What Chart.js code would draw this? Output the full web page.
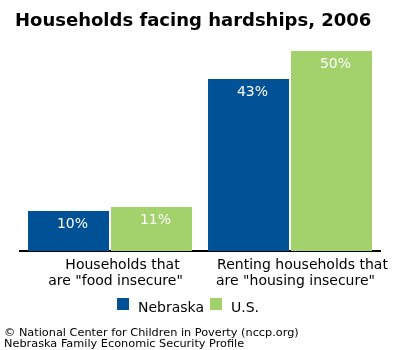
<!DOCTYPE html>
<html>
<head>
<meta charset="utf-8">
<script src="https://cdn.jsdelivr.net/npm/chart.js@4"></script>
<style>
html,body{margin:0;padding:0;background:#fff;}
canvas{display:block;}
</style>
</head>
<body>
<canvas id="c" width="400" height="350"></canvas>
<script>
const categories = [['Households that', 'are "food insecure"'], ['Renting households that', 'are "housing insecure"']];
const seriesNames = ['Nebraska', 'U.S.'];
const nebraskaValues = [10, 43];
const usValues = [11, 50];
const titleText = 'Households facing hardships, 2006';
const footerLines = ['\u00A9 National Center for Children in Poverty (nccp.org)', 'Nebraska Family Economic Security Profile'];

const BLUE = '#005195';
const GREEN = '#a3d16c';
const FONT = '"DejaVu Sans", sans-serif';

const decor = {
  id: 'decor',
  afterDatasetsDraw(chart) {
    const ctx = chart.ctx;
    ctx.save();
    ctx.fillStyle = '#fff';
    ctx.font = '14px ' + FONT;
    ctx.textAlign = 'center';
    ctx.textBaseline = 'middle';
    chart.data.datasets.forEach((ds, di) => {
      const meta = chart.getDatasetMeta(di);
      meta.data.forEach((el, i) => {
        ctx.fillText(ds.data[i] + '%', el.x + 4, el.y + 13);
      });
    });
    const xs = chart.scales.x;
    ctx.fillStyle = '#000';
    ctx.font = '14px ' + FONT;
    ctx.textBaseline = 'alphabetic';
    ctx.textAlign = 'center';
    const offs = [12.5, 5.5];
    categories.forEach((lines, i) => {
      const cx = xs.getPixelForValue(i);
      lines.forEach((ln, j) => {
        ctx.fillText(ln, cx + offs[j], 268.5 + j * 16);
      });
    });
    ctx.textAlign = 'left';
    ctx.font = 'bold 18px ' + FONT;
    ctx.fillText(titleText, 15, 26);
    ctx.font = '14px ' + FONT;
    const colors = [BLUE, GREEN];
    const legendX = [117, 210];
    seriesNames.forEach((n, i) => {
      ctx.fillStyle = colors[i];
      ctx.fillRect(legendX[i], 298, 12, 12);
      ctx.fillStyle = '#000';
      ctx.fillText(n, legendX[i] + 21, 312);
    });
    ctx.font = '11.3px ' + FONT;
    ctx.fillText(footerLines[0], 4, 336);
    ctx.fillText(footerLines[1], 4, 347);
    ctx.restore();
  }
};

new Chart(document.getElementById('c'), {
  type: 'bar',
  data: {
    labels: categories,
    datasets: [
      { label: seriesNames[0], data: nebraskaValues, backgroundColor: BLUE, categoryPercentage: 0.922, barPercentage: 0.976 },
      { label: seriesNames[1], data: usValues, backgroundColor: GREEN, categoryPercentage: 0.922, barPercentage: 0.976 }
    ]
  },
  options: {
    responsive: false,
    animation: false,
    layout: { padding: { left: 20, right: 20, top: 51, bottom: 91 } },
    plugins: { legend: { display: false }, title: { display: false }, tooltip: { enabled: false } },
    scales: {
      x: {
        grid: { display: false },
        border: { display: true, color: '#000', width: 2 },
        ticks: { display: false }
      },
      y: { display: false, min: 0, max: 50 }
    }
  },
  plugins: [decor]
});
</script>
</body>
</html>
